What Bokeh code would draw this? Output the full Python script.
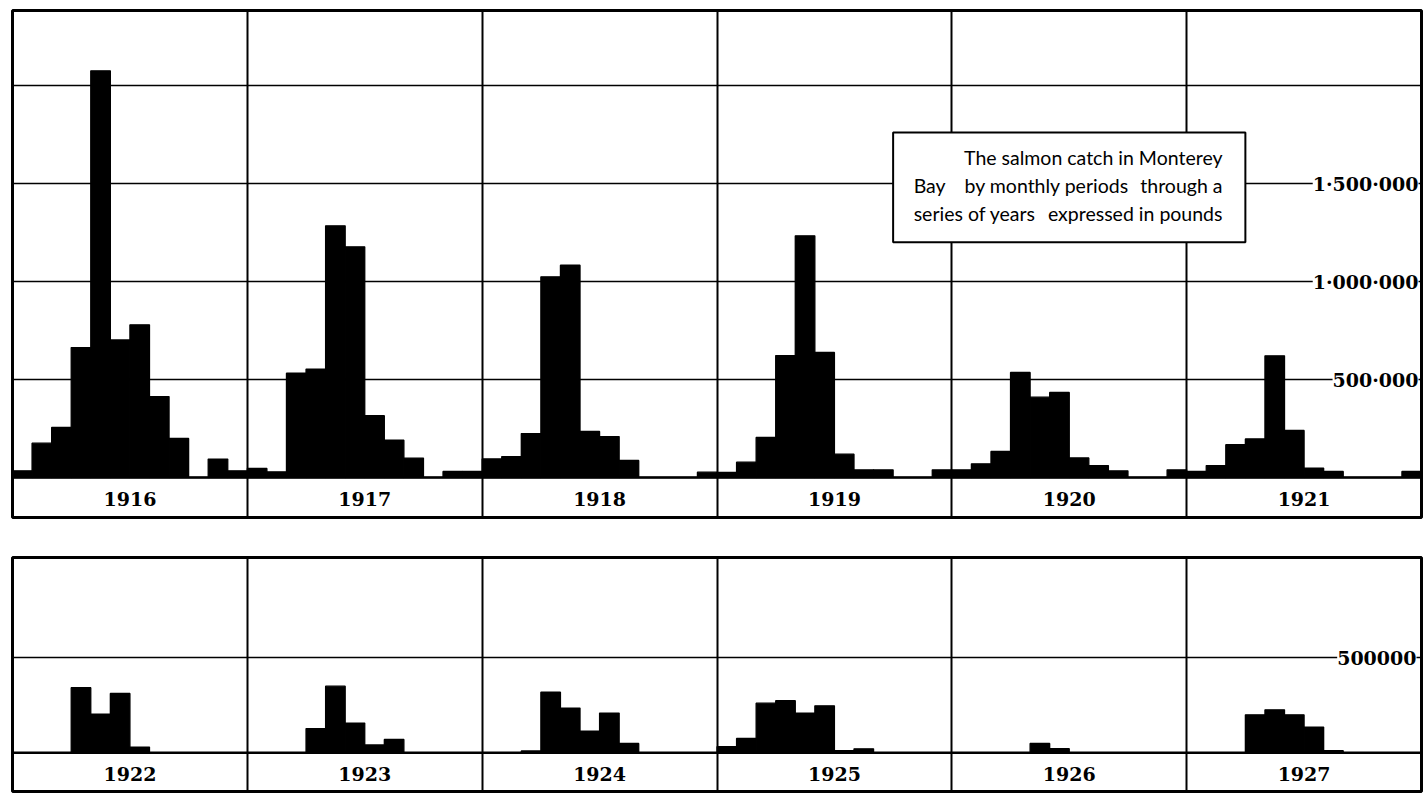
from bokeh.plotting import figure
from bokeh.models import Range1d, FixedTicker, ColumnDataSource, Grid, Span
from bokeh.layouts import column
from bokeh.embed import file_html
from bokeh.resources import INLINE
from bokeh.core.properties import value

# ---------------- data (pounds of salmon, monthly) ----------------
top_years = ["1916", "1917", "1918", "1919", "1920", "1921"]
bottom_years = ["1922", "1923", "1924", "1925", "1926", "1927"]

catch_1916 = [34000, 175000, 255000, 663000, 2075000, 702000, 779000, 413000, 199000, 0, 94000, 34000]
catch_1917 = [46000, 29000, 532000, 553000, 1284000, 1177000, 315000, 190000, 99000, 0, 31000, 31000]
catch_1918 = [95000, 107000, 224000, 1024000, 1083000, 235000, 209000, 87000, 0, 0, 0, 27000]
catch_1919 = [26000, 78000, 204000, 622000, 1233000, 638000, 119000, 39000, 39000, 0, 0, 39000]
catch_1920 = [39000, 70000, 133000, 536000, 410000, 434000, 100000, 61000, 34000, 0, 0, 39000]
catch_1921 = [31000, 61000, 167000, 197000, 621000, 240000, 48000, 31000, 0, 0, 0, 31000]

catch_1922 = [0, 0, 0, 340000, 202000, 310000, 29000, 0, 0, 0, 0, 0]
catch_1923 = [0, 0, 0, 126000, 348000, 155000, 40000, 69000, 0, 0, 0, 0]
catch_1924 = [0, 0, 9000, 316000, 233000, 112000, 207000, 48000, 0, 0, 0, 0]
catch_1925 = [31000, 74000, 259000, 272000, 207000, 245000, 10000, 20000, 0, 0, 0, 0]
catch_1926 = [0, 0, 0, 0, 48000, 21000, 0, 0, 0, 0, 0, 0]
catch_1927 = [0, 0, 0, 198000, 224000, 198000, 134000, 10000, 0, 0, 0, 0]

top_series = [catch_1916, catch_1917, catch_1918, catch_1919, catch_1920, catch_1921]
bottom_series = [catch_1922, catch_1923, catch_1924, catch_1925, catch_1926, catch_1927]

top_ticks = [500000, 1000000, 1500000, 2000000]
top_tick_labels = ["500·000", "1·000·000", "1·500·000", ""]
bottom_ticks = [500000]
bottom_tick_labels = ["500000"]

note_pieces = ["The salmon catch in Monterey", "Bay", "by monthly periods", "through a",
               "series of years", "expressed in pounds"]

MONTHS = 12
LABEL_FONT = value("DejaVu Serif")
NOTE_FONT = value("Lato")


def panel(years, series, y_lo, y_hi, height, top_border, ticks, label_row_mid):
    n = len(years)
    p = figure(width=1424, height=height, x_range=Range1d(0, n * MONTHS),
               y_range=Range1d(y_lo, y_hi), output_backend="svg",
               toolbar_location=None, x_axis_location=None, y_axis_location=None,
               min_border_left=12, min_border_right=3, min_border_top=top_border,
               min_border_bottom=2)
    p.grid.visible = False
    p.background_fill_color = "white"
    p.border_fill_color = "white"
    p.outline_line_color = "black"
    p.outline_line_width = 3

    # horizontal rulings at the value ticks, vertical rulings between years
    p.add_layout(Grid(dimension=1, ticker=FixedTicker(ticks=ticks),
                      grid_line_color="black", grid_line_width=1.6))
    p.add_layout(Grid(dimension=0, ticker=FixedTicker(ticks=[MONTHS * i for i in range(1, n)]),
                      grid_line_color="black", grid_line_width=2))

    xs, tops = [], []
    for yi, vals in enumerate(series):
        for m, v in enumerate(vals):
            xs.append(yi * MONTHS + m + 0.5)
            tops.append(v)
    src = ColumnDataSource(dict(x=xs, top=tops))
    p.vbar(x="x", top="top", bottom=0, width=1.0, source=src,
           fill_color="black", line_color="black", line_width=1.3)

    p.add_layout(Span(location=0, dimension="width", line_color="black", line_width=2.5))

    # year labels in the bottom row
    p.text(x=[yi * MONTHS + MONTHS / 2 for yi in range(n)], y=[label_row_mid] * n, text=years,
           text_align="center", text_baseline="middle", text_font=LABEL_FONT,
           text_font_style="bold", text_font_size="19px", text_color="black", y_offset=2)
    return p


# ---------------- upper panel: 1916-1921 ----------------
p1 = panel(top_years, top_series, -204082, 2382653, 519, 10, top_ticks, -102041)

# explanatory note box
p1.quad(left=[45], right=[63], bottom=[1200000], top=[1760000],
        fill_color="white", line_color="black", line_width=2)
p1.text(x=[61.83, 46.05, 48.65, 61.83, 46.05, 61.83],
        y=[1632653, 1489796, 1489796, 1489796, 1346939, 1346939],
        text=note_pieces, text_align=["right", "left", "left", "right", "left", "right"],
        text_baseline="middle", text_font=NOTE_FONT, text_font_size="19.5px",
        text_color="black")

p1.text(x=[72] * len(top_ticks), y=top_ticks, text=top_tick_labels, text_align="right",
        text_baseline="middle", x_offset=-3, y_offset=1, text_font=LABEL_FONT,
        text_font_style="bold", text_font_size="19px", text_color="black",
        background_fill_color="white")

# ---------------- lower panel: 1922-1927 ----------------
p2 = panel(bottom_years, bottom_series, -203125, 1020833, 274, 38, bottom_ticks, -101563)
p2.text(x=[72] * len(bottom_ticks), y=bottom_ticks, text=bottom_tick_labels, text_align="right",
        text_baseline="middle", x_offset=-5, y_offset=1, text_font=LABEL_FONT,
        text_font_style="bold", text_font_size="19px", text_color="black",
        background_fill_color="white")

layout = column(p1, p2, spacing=0)
open("out.html", "w").write(file_html(layout, INLINE))
